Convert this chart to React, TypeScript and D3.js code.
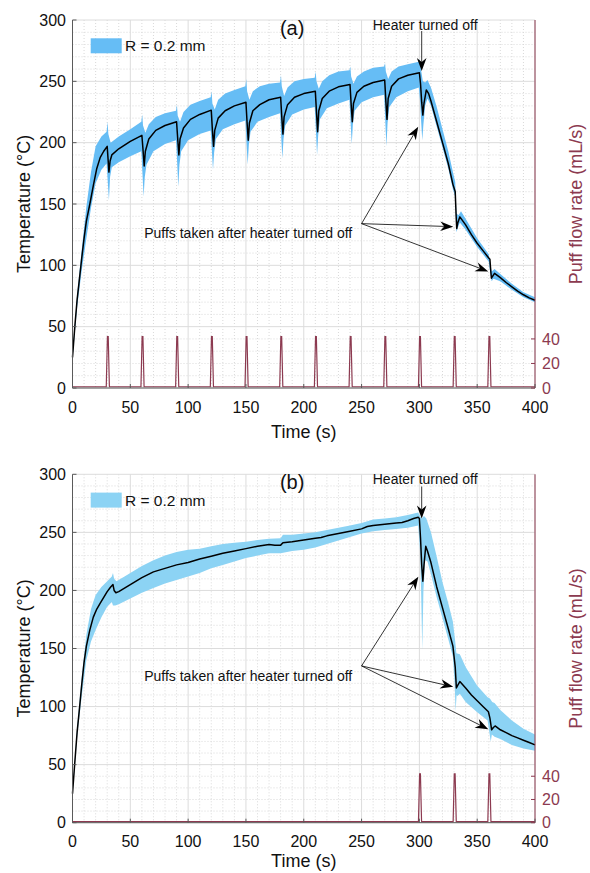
import * as d3 from 'd3';

const W = 590;
const H = 873;
const X_LEFT = 72.5;
const X_RIGHT = 535;
const FONT = '"Liberation Sans", Arial, sans-serif';
const MAROON = '#8c3a50';

const timeTicks = [0, 50, 100, 150, 200, 250, 300, 350, 400];
const tempTicks = [0, 50, 100, 150, 200, 250, 300];
const flowTicks = [0, 20, 40];

// puff flow rate (mL/s)
const puffTimesA = [30, 60, 90, 120, 150, 180, 210, 240, 270, 300, 330, 360];
const puffTimesB = [300, 330, 360];
const puffOffsets = [-0.8, 0.2, 0.9, 1.9];
const puffFlow = [1, 42, 42, 1];
const puffBaseline = 1;

// (a) temperature: mean and band edges, [time, temp]
const meanA: [number, number][] = [[0,25],[2,50],[4,72],[6,89],[8,106],[10,122],[12,136],[15,150],[18,165],[21,179],[24,188],[27,193],[30,197],[30.8,186],[31.5,176],[32.5,185],[34,190],[40,195],[50,201],[60,206],[61,194],[62,181],[63,193],[66,203],[72,210],[80,214],[90,217],[91,203],[92,190],[93,203],[96,212],[102,219],[110,223],[120,226.5],[121,210],[122,197],[123,210],[126,220],[132,226],[140,230],[150,233],[151,216],[152,202],[153,216],[156,226],[162,231],[170,235],[180,237],[181,221],[182,207],[183,221],[186,231],[192,237],[200,240],[210,242],[211,225],[212,209],[213,226],[216,236],[222,242],[230,245.5],[240,247.5],[241,231],[242,217],[243,232],[246,241],[252,246],[260,249],[270,251],[271,234],[272,219],[273,236],[276,246],[282,252],[290,255],[300,257],[301,248],[302,233],[303,222.5],[304,232],[306,243],[308,240],[310,234],[315,217],[320,200],[325,183],[329,166],[331,160],[331.8,140],[332.3,130],[333.3,135],[335,139.5],[340,133],[345,125],[350,118],[355,112],[360,106],[361,105],[361.7,96],[362.3,89.5],[363.3,91],[365,93.5],[370,90],[375,86],[380,82.5],[385,79],[390,76],[395,73.5],[400,71.5]];
const upperA: [number, number][] = [[0,26],[4,76],[8,113],[12,148],[16,176],[20,197],[25,205],[29.5,209],[30.3,217],[31,207],[33,200],[40,205],[50,211],[59.5,217],[60.3,223],[61,214],[63,208],[66,215],[72,221],[80,224],[89.5,226],[90.3,231],[91,222],[93,217],[96,225],[102,231],[110,234],[119.5,237],[120.3,242],[121,232],[123,227],[126,235],[132,240],[140,243],[149.5,246],[150.3,252],[151,242],[153,235],[156,242],[162,246],[170,248],[179.5,249],[180.3,255],[181,246],[183,238],[186,245],[192,250],[200,252],[209.5,253],[210.3,258],[211,250],[213,244],[216,250],[222,255],[230,258],[239.5,259],[240.3,262],[241,254],[243,248],[246,254],[252,258],[260,261],[269.5,262],[270.3,265],[271,258],[273,252],[276,258],[282,262],[290,264],[299.5,266],[300.3,268],[301,262],[303,250],[305,249],[307,251],[310,245],[315,229],[320,211],[325,193],[329,176],[331,168],[332,142],[334,141],[336,144],[340,138],[350,122],[360,109],[361.5,100],[362.5,95],[365,97],[370,93],[380,85],[390,78],[400,74]];
const lowerA: [number, number][] = [[0,24],[4,66],[8,96],[12,122],[16,147],[20,167],[25,178],[29.5,183],[30.5,168],[31.5,153],[32.5,172],[34,180],[40,184],[50,189],[59.5,193],[60.5,175],[61.5,156],[62.5,172],[64,182],[70,193],[80,199],[89.5,202],[90.5,184],[91.5,164],[92.5,182],[94,193],[100,202],[110,207],[119.5,210],[120.5,194],[121.5,178],[122.5,192],[124,203],[130,211],[140,215],[149.5,218],[150.5,200],[151.5,182],[152.5,198],[154,209],[160,217],[170,221],[179.5,224],[180.5,205],[181.5,187],[182.5,203],[184,214],[190,223],[200,227],[209.5,229],[210.5,210],[211.5,190],[212.5,206],[214,219],[220,228],[230,232],[239.5,235],[240.5,217],[241.5,199],[242.5,215],[244,226],[250,233],[260,237],[269.5,239],[270.5,218],[271.5,197],[272.5,216],[274,229],[280,237],[290,242],[299.5,245],[300.5,235],[301.5,218],[302.5,202],[303.5,215],[305,230],[307,236],[310,230],[315,213],[320,196],[325,179],[329,162],[331,156],[332,127],[333,130],[335,135],[340,129],[350,115],[360,103],[361.5,93],[362.5,87],[364,89],[370,87],[380,80],[390,74],[400,70]];

// (b)
const meanB: [number, number][] = [[0,25],[2,52],[4,78],[6,98],[8,119],[10,138],[12,152],[15,166],[18,177],[21,184],[24,189],[27,194],[30,199],[33,203],[35,205],[36,200],[37.5,198],[40,199],[50,205],[60,211],[70,216],[80,219],[90,222],[100,224],[110,227],[120,229.5],[130,232],[140,234],[150,236],[160,238],[170,239.5],[175,239],[180,239],[182,241],[190,242],[200,243.5],[210,245],[215,245.5],[220,247],[230,249],[240,251],[250,253],[255,255],[260,256],[270,257],[280,258],[285,258.5],[290,260],[295,262],[299,263],[300,262],[301,245],[302,222],[303,208],[304,222],[305.5,238],[307,234],[310,224],[315,203],[320,185],[325,167],[329,152],[331,134],[332,116],[333,118],[335,121.5],[340,116],[345,110],[350,105],[355,100],[359.7,95.5],[361,90],[362.5,80],[364,82],[365.5,83.3],[370,80],[375,77.5],[380,75],[385,73],[390,71],[395,69],[400,67]];
const upperB: [number, number][] = [[0,26],[4,82],[8,126],[12,162],[16,184],[20,196],[25,203],[30,208],[34,212],[35,215],[36,210],[38,208],[45,212],[50,215],[60,221],[70,226],[80,230],[90,233],[100,235],[110,236],[120,238],[130,240],[140,241],[150,242],[160,243.5],[170,244.5],[180,245],[182,248],[190,248],[200,249],[210,250],[220,252],[230,254],[240,256],[250,258],[260,261],[270,262],[280,263],[290,265],[299,267],[300.5,264],[302,262],[304,264],[306,262],[310,250],[315,229],[320,207],[325,189],[329,173],[331,156],[332,146],[335,145],[340,134],[350,118],[359,108],[361,107],[363,104],[365,103],[370,97],[380,88],[390,81],[400,76]];
const lowerB: [number, number][] = [[0,24],[4,74],[8,109],[12,140],[16,156],[20,166],[25,177],[30,186],[34,190],[35,187],[37,187],[40,188],[50,193],[60,198],[70,202],[80,206],[90,209],[100,212],[110,215],[120,219],[130,222],[140,225],[150,228],[160,230],[170,232],[180,232],[190,234],[200,235],[210,237],[220,240],[230,243],[240,246],[250,249],[260,251],[270,252],[280,253],[290,254],[299,256],[300.5,235],[301.5,200],[302.5,149],[303.5,200],[305,226],[307,225],[310,214],[315,194],[320,176],[325,158],[329,143],[330.5,120],[331.3,96],[332.2,110],[333,109],[335,111],[340,104],[350,95],[359,88],[360.5,78],[361.7,70],[362.7,76],[365,74],[370,72],[380,67],[390,64],[400,62]];

// annotations in data coordinates [time, temp]
const heaterTextA: [number, number] = [305, 292];
const heaterArrowA: [number, number][] = [[302, 291], [302, 258.5]];
const puffsTextA: [number, number] = [62, 126];
const puffsSrcA: [number, number] = [250, 134];
const puffsTipsA: [number, number][] = [[299, 213], [329.3, 131.5], [359.6, 95]];

const heaterTextB: [number, number] = [305, 292];
const heaterArrowB: [number, number][] = [[302, 289.5], [302, 262]];
const puffsTextB: [number, number] = [62, 126];
const puffsSrcB: [number, number] = [250, 135];
const puffsTipsB: [number, number][] = [[299.1, 211.8], [329.3, 117], [359.6, 80.5]];

function Arrow({ x1, y1, x2, y2 }: { x1: number; y1: number; x2: number; y2: number }) {
  const ang = Math.atan2(y2 - y1, x2 - x1);
  const ex = x2 - Math.cos(ang) * 9;
  const ey = y2 - Math.sin(ang) * 9;
  return (
    <g>
      <line x1={x1} y1={y1} x2={ex} y2={ey} stroke="#000" strokeWidth={0.8} />
      <path
        d="M0,0 L-13,-4.8 L-9,0 L-13,4.8 Z"
        fill="#000"
        transform={`translate(${x2},${y2}) rotate(${(ang * 180) / Math.PI})`}
      />
    </g>
  );
}

function Panel({ top, bottom, tickGap, titleGap, mean, upper, lower, puffTimes, bandColor, label, heaterText, heaterArrow, puffsText, puffsSrc, puffsTips }: any) {
  const x = d3.scaleLinear().domain([0, 400]).range([X_LEFT, X_RIGHT]);
  const y = d3.scaleLinear().domain([0, 300]).range([bottom, top]);
  const yFlow = y; // right axis shares the same 0-300 span

  const line = d3.line<[number, number]>().x((d) => x(d[0])).y((d) => y(d[1]));
  const bandPts: [number, number][] = [...upper, ...lower.slice().reverse()];
  const bandPath = line(bandPts) + 'Z';

  const puff: [number, number][] = [[0, puffBaseline]];
  puffTimes.forEach((t: number) => {
    puffOffsets.forEach((o, i) => puff.push([t + o, puffFlow[i]]));
  });
  puff.push([400, puffBaseline]);
  const puffLine = d3.line<[number, number]>().x((d) => x(d[0])).y((d) => yFlow(d[1]));

  const minorX = d3.range(0, 401, 10).filter((v) => v % 50 !== 0);
  const minorY = d3.range(0, 301, 10).filter((v) => v % 50 !== 0);
  const midY = (top + bottom) / 2;

  return (
    <g fontFamily={FONT}>
      {/* grid */}
      {minorX.map((v) => (
        <line key={'mx' + v} x1={x(v)} x2={x(v)} y1={top} y2={bottom} stroke="#d9d9d9" strokeDasharray="1,2" />
      ))}
      {minorY.map((v) => (
        <line key={'my' + v} x1={X_LEFT} x2={X_RIGHT} y1={y(v)} y2={y(v)} stroke="#d9d9d9" strokeDasharray="1,2" />
      ))}
      {timeTicks.map((v) => (
        <line key={'gx' + v} x1={x(v)} x2={x(v)} y1={top} y2={bottom} stroke="#dcdcdc" />
      ))}
      {tempTicks.map((v) => (
        <line key={'gy' + v} x1={X_LEFT} x2={X_RIGHT} y1={y(v)} y2={y(v)} stroke="#dcdcdc" />
      ))}

      {/* data */}
      <path d={bandPath} fill={bandColor} stroke="none" />
      <path d={line(mean) || ''} fill="none" stroke="#000" strokeWidth={1.5} strokeLinejoin="round" />
      <path d={puffLine(puff) || ''} fill="none" stroke={MAROON} strokeWidth={1.2} />

      {/* axes */}
      <line x1={X_LEFT} x2={X_LEFT} y1={top} y2={bottom} stroke="#5a5a5a" />
      <line x1={X_LEFT} x2={X_RIGHT} y1={bottom} y2={bottom} stroke="#5a5a5a" />
      <line x1={X_RIGHT} x2={X_RIGHT} y1={top} y2={bottom} stroke={MAROON} />
      {timeTicks.map((v) => (
        <g key={'tx' + v}>
          <line x1={x(v)} x2={x(v)} y1={bottom} y2={bottom - 4} stroke="#5a5a5a" />
          <text x={x(v)} y={bottom + tickGap} fontSize={16} textAnchor="middle" fill="#111">{v}</text>
        </g>
      ))}
      {tempTicks.map((v) => (
        <g key={'ty' + v}>
          <line x1={X_LEFT} x2={X_LEFT + 4} y1={y(v)} y2={y(v)} stroke="#5a5a5a" />
          <text x={66} y={y(v)} dy="0.35em" fontSize={16} textAnchor="end" fill="#111">{v}</text>
        </g>
      ))}
      {flowTicks.map((v) => (
        <g key={'tf' + v}>
          <line x1={X_RIGHT - 4} x2={X_RIGHT} y1={yFlow(v)} y2={yFlow(v)} stroke={MAROON} />
          <text x={X_RIGHT + 7} y={yFlow(v)} dy="0.35em" fontSize={16} fill={MAROON}>{v}</text>
        </g>
      ))}
      <text x={(X_LEFT + X_RIGHT) / 2} y={bottom + titleGap} fontSize={18} textAnchor="middle" fill="#111">Time (s)</text>
      <text transform={`translate(29.5,${midY}) rotate(-90)`} fontSize={18} textAnchor="middle" fill="#111">Temperature (°C)</text>
      <text transform={`translate(582,${midY}) rotate(-90)`} fontSize={18} textAnchor="middle" fill={MAROON}>Puff flow rate (mL/s)</text>

      {/* legend */}
      <rect x={90.7} y={top + 18.3} width={31} height={15} fill={bandColor} />
      <text x={125} y={top + 26} dy="0.35em" fontSize={15.5} fill="#111">R = 0.2 mm</text>
      <text x={x(190)} y={top + 15} fontSize={20} textAnchor="middle" fill="#111">{label}</text>

      {/* annotations */}
      <text x={x(heaterText[0])} y={y(heaterText[1])} fontSize={14} textAnchor="middle" fill="#111">Heater turned off</text>
      <Arrow x1={x(heaterArrow[0][0])} y1={y(heaterArrow[0][1])} x2={x(heaterArrow[1][0])} y2={y(heaterArrow[1][1])} />
      <text x={x(puffsText[0])} y={y(puffsText[1])} dy="0.35em" fontSize={14} fill="#111">Puffs taken after heater turned off</text>
      {puffsTips.map((p: [number, number], i: number) => (
        <Arrow key={i} x1={x(puffsSrc[0])} y1={y(puffsSrc[1])} x2={x(p[0])} y2={y(p[1])} />
      ))}
    </g>
  );
}

export default function App() {
  return (
    <svg width={W} height={H} style={{ position: 'absolute', left: 0, top: 0, background: '#fff' }}>
      <Panel top={20} bottom={388} tickGap={25} titleGap={50} mean={meanA} upper={upperA} lower={lowerA} puffTimes={puffTimesA}
        bandColor="#66bdf5" label="(a)" heaterText={heaterTextA} heaterArrow={heaterArrowA}
        puffsText={puffsTextA} puffsSrc={puffsSrcA} puffsTips={puffsTipsA} />
      <Panel top={474.3} bottom={822.7} tickGap={24} titleGap={44} mean={meanB} upper={upperB} lower={lowerB} puffTimes={puffTimesB}
        bandColor="#8cd3f4" label="(b)" heaterText={heaterTextB} heaterArrow={heaterArrowB}
        puffsText={puffsTextB} puffsSrc={puffsSrcB} puffsTips={puffsTipsB} />
    </svg>
  );
}
